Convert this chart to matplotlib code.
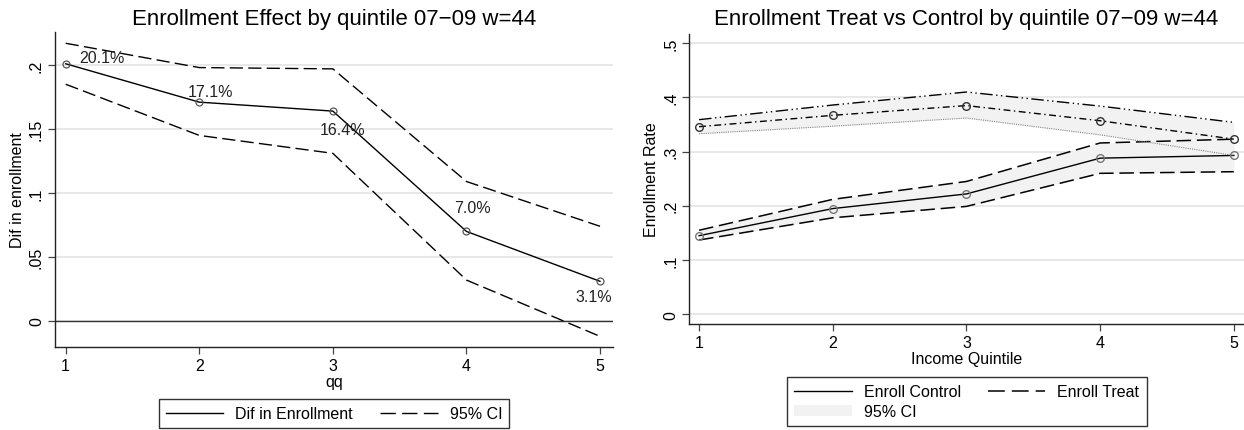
import matplotlib
matplotlib.use("Agg")
import matplotlib.pyplot as plt
from matplotlib.lines import Line2D
from matplotlib.patches import Patch

plt.rcParams['font.family'] = ['Liberation Sans', 'DejaVu Sans']

# data
quintiles = [1, 2, 3, 4, 5]

# left: difference in enrollment and its 95% CI
dif = [0.201, 0.171, 0.164, 0.070, 0.031]
dif_hi = [0.217, 0.198, 0.197, 0.109, 0.074]
dif_lo = [0.185, 0.145, 0.131, 0.032, -0.012]
dif_labels = ['20.1%', '17.1%', '16.4%', '7.0%', '3.1%']
left_yticks = [0, 0.05, 0.1, 0.15, 0.2]
left_yticklabels = ['0', '.05', '.1', '.15', '.2']

# right: control and treatment enrollment with CIs
ctrl = [0.145, 0.195, 0.222, 0.288, 0.293]
ctrl_hi = [0.155, 0.212, 0.245, 0.316, 0.323]
ctrl_lo = [0.137, 0.178, 0.199, 0.260, 0.263]
treat = [0.346, 0.367, 0.385, 0.357, 0.323]
treat_hi = [0.359, 0.386, 0.410, 0.384, 0.354]
treat_lo = [0.333, 0.347, 0.362, 0.331, 0.293]
right_yticks = [0, 0.1, 0.2, 0.3, 0.4, 0.5]
right_yticklabels = ['0', '.1', '.2', '.3', '.4', '.5']

W, H = 1244, 431
fig = plt.figure(figsize=(W / 100, H / 100), dpi=100)

grid_c = '#e6e6e6'
band_c = '#f2f2f2'
circ_c = '#555555'
long_dash = (0, (9.5, 3.8))
leg_dash = (0, (11, 4.6))
fs = 11.5


def style_axes(ax):
    for s in ['top', 'right']:
        ax.spines[s].set_visible(False)
    for s in ['left', 'bottom']:
        ax.spines[s].set_linewidth(1.0)
        ax.spines[s].set_color('#222222')
    ax.tick_params(direction='out', length=5, width=0.9, color='#444444',
                   labelsize=fs, pad=3)
    ax.yaxis.grid(True, color=grid_c, linewidth=1.3)
    ax.set_axisbelow(True)
    ax.set_xticks(quintiles)
    ax.set_xticklabels([str(q) for q in quintiles])


def box_legend(handles, labels, x, y):
    leg = fig.legend(handles, labels, ncol=2, loc='upper center',
                     bbox_to_anchor=(x / W, 1 - y / H), borderaxespad=0,
                     fontsize=fs, frameon=True, fancybox=False,
                     handlelength=3.6, handletextpad=0.75, columnspacing=1.7,
                     borderpad=0.45, labelspacing=0.3)
    leg.get_frame().set_edgecolor('black')
    leg.get_frame().set_linewidth(1.0)
    return leg


# ---- left panel
ax1 = fig.add_axes([55 / W, 1 - 348 / H, (613 - 55) / W, (348 - 33) / H])
style_axes(ax1)
ax1.set_xlim(0.92, 5.097)
ax1.set_ylim(-0.0203, 0.2258)
ax1.set_yticks(left_yticks)
ax1.set_yticklabels(left_yticklabels, rotation=90, va='center')
ax1.axhline(0, color='#333333', linewidth=1.0, zorder=1)
ax1.plot(quintiles, dif_hi, color='black', linewidth=1.0, linestyle=long_dash)
ax1.plot(quintiles, dif_lo, color='black', linewidth=1.0, linestyle=long_dash)
ax1.plot(quintiles, dif, color='black', linewidth=1.0)
ax1.plot(quintiles, dif, linestyle='none', marker='o', markersize=5,
         markerfacecolor='none', markeredgecolor=circ_c, markeredgewidth=0.9)
offs = [(14, 6), (11, 11), (10, -18), (6, 24), (-6, -15)]
for q, v, lab, (dx, dy) in zip(quintiles, dif, dif_labels, offs):
    ha = 'left' if q == 1 else 'center'
    ax1.annotate(lab, (q, v), xytext=(dx, dy), textcoords='offset pixels',
                 ha=ha, va='center', fontsize=fs, color='#222222')
ax1.set_xlabel('qq', fontsize=fs, labelpad=1)
ax1.set_ylabel('Dif in enrollment', fontsize=fs, labelpad=3)
fig.text(334 / W, 1 - 19 / H, 'Enrollment Effect by quintile 07\u221209 w=44',
         ha='center', va='center', fontsize=16)

h1 = [Line2D([], [], color='black', linewidth=1.0),
      Line2D([], [], color='black', linewidth=1.0, linestyle=leg_dash)]
box_legend(h1, ['Dif in Enrollment', '95% CI'], 334, 400)

# ---- right panel
ax2 = fig.add_axes([689.3 / W, 1 - 325 / H, (1244 - 689.3) / W, (325 - 35) / H])
style_axes(ax2)
ax2.set_xlim(0.927, 5.076)
ax2.set_ylim(-0.0179, 0.517)
ax2.set_yticks(right_yticks)
ax2.set_yticklabels(right_yticklabels, rotation=90, va='center')

ax2.fill_between(quintiles, ctrl_lo, ctrl_hi, color=band_c, linewidth=0, zorder=1.5)
ax2.fill_between(quintiles, treat_lo, treat_hi, color=band_c, linewidth=0, zorder=1.5)
ax2.plot(quintiles, ctrl_hi, color='black', linewidth=1.1, linestyle=long_dash)
ax2.plot(quintiles, ctrl_lo, color='black', linewidth=1.1, linestyle=long_dash)
ax2.plot(quintiles, ctrl, color='black', linewidth=1.0)
ax2.plot(quintiles, ctrl, linestyle='none', marker='o', markersize=5.5,
         markerfacecolor='none', markeredgecolor='#777777', markeredgewidth=1.0)
ax2.plot(quintiles, treat_hi, color='black', linewidth=1.0,
         linestyle=(0, (9, 2.5, 1, 2.5, 1, 2.5)))
ax2.plot(quintiles, treat_lo, color='#888888', linewidth=0.8, linestyle=(0, (1, 1)))
ax2.plot(quintiles, treat, color='black', linewidth=1.0,
         linestyle=(0, (5, 2.5, 1, 2.5)))
ax2.plot(quintiles, treat, linestyle='none', marker='o', markersize=5.5,
         markerfacecolor='none', markeredgecolor='#333333', markeredgewidth=1.0)
ax2.set_xlabel('Income Quintile', fontsize=fs, labelpad=1)
ax2.set_ylabel('Enrollment Rate', fontsize=fs, labelpad=3)
fig.text(966.5 / W, 1 - 19 / H,
         'Enrollment Treat vs Control by quintile 07\u221209 w=44',
         ha='center', va='center', fontsize=16)

h2 = [Line2D([], [], color='black', linewidth=1.0),
      Patch(facecolor=band_c, edgecolor='none'),
      Line2D([], [], color='black', linewidth=1.1, linestyle=leg_dash)]
box_legend(h2, ['Enroll Control', '95% CI', 'Enroll Treat'], 966.7, 378)

fig.savefig('out.png', dpi=100)
